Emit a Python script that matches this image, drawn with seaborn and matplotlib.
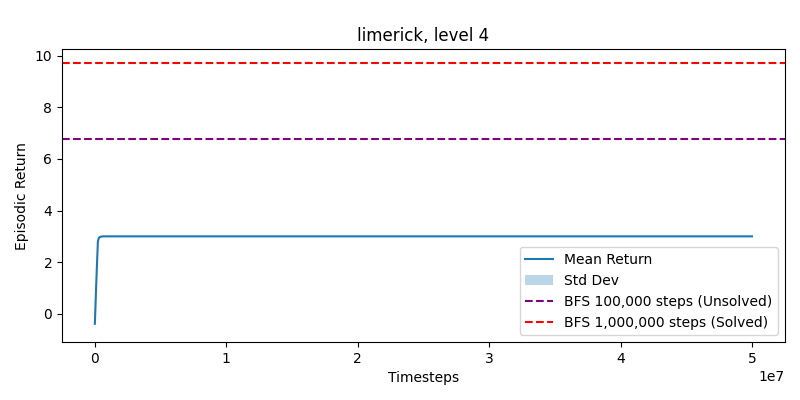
import matplotlib
matplotlib.use("Agg")
import matplotlib.pyplot as plt
import seaborn as sns
import numpy as np
import pandas as pd

timesteps = [0, 80_000, 160_000, 230_000, 300_000, 400_000, 600_000, 1_000_000,
             5_000_000, 10_000_000, 20_000_000, 30_000_000, 40_000_000, 50_000_000]
mean_return = [-0.39, 0.80, 1.90, 2.80, 2.94, 2.98, 3.0, 3.0,
               3.0, 3.0, 3.0, 3.0, 3.0, 3.0]
std_return = [0.19, 0.15, 0.10, 0.05, 0.03, 0.02, 0.01, 0.005,
              0.005, 0.005, 0.005, 0.005, 0.005, 0.005]
bfs_unsolved = 6.79
bfs_solved = 9.74

df = pd.DataFrame({"Timesteps": timesteps, "Mean": mean_return, "Std": std_return})

fig, ax = plt.subplots(figsize=(8, 4), dpi=100)
sns.lineplot(data=df, x="Timesteps", y="Mean", ax=ax, color="#1f77b4", label="Mean Return")
ax.fill_between(df["Timesteps"], df["Mean"] - df["Std"], df["Mean"] + df["Std"],
                color="#1f77b4", alpha=0.3, linewidth=0, label="Std Dev")
ax.axhline(bfs_unsolved, color="purple", linestyle="--", label="BFS 100,000 steps (Unsolved)")
ax.axhline(bfs_solved, color="red", linestyle="--", label="BFS 1,000,000 steps (Solved)")

ax.set_title("limerick, level 4")
ax.set_xlabel("Timesteps")
ax.set_ylabel("Episodic Return")
ax.legend(loc="lower right")
fig.subplots_adjust(left=0.0775, right=0.981, top=0.877, bottom=0.145)
fig.savefig("out.png")
